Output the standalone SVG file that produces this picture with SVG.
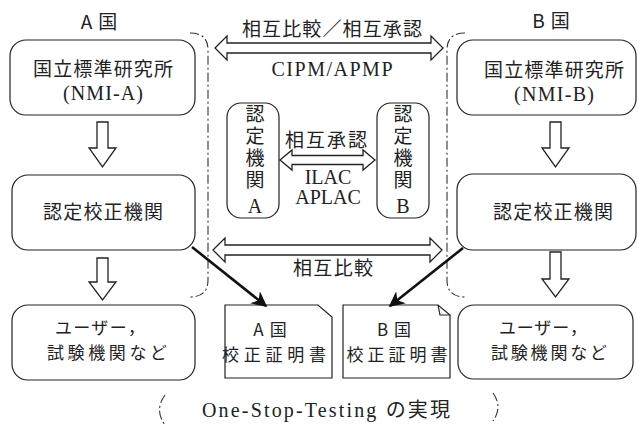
<svg xmlns="http://www.w3.org/2000/svg" width="638" height="425" viewBox="0 0 638 425">
<defs>
<style>
.bx{fill:none;stroke:#222;stroke-width:1.2}
.reg{fill:none;stroke:#333;stroke-width:1.1;stroke-dasharray:9 3 2 3}
.ha{fill:#fff;stroke:#222;stroke-width:1.3;stroke-linejoin:miter}
.ta{stroke:#111;stroke-width:2.6;fill:none}
.jp{font-family:"Noto Sans CJK JP","Liberation Sans",sans-serif;font-size:19px;fill:#222;text-anchor:middle}
.j2{font-family:"Noto Sans CJK JP","Liberation Sans",sans-serif;font-size:17px;fill:#222;text-anchor:middle}
.lt{font-family:"Liberation Serif","Noto Sans CJK JP",serif;font-size:20px;fill:#222;text-anchor:middle}
.vt{font-family:"Noto Sans CJK JP","Liberation Sans",sans-serif;font-size:19px;fill:#222;writing-mode:vertical-rl;letter-spacing:3px}
</style>
<marker id="ah" viewBox="0 0 10 10" refX="9" refY="5" markerWidth="6" markerHeight="6" markerUnits="strokeWidth" orient="auto">
<path d="M0,0 L10,5 L0,10 L3,5 Z" fill="#111"/>
</marker>
</defs>
<rect width="638" height="425" fill="#fff"/>

<g id="regions">
<path class="reg" d="M190,33 Q208,33 208,50 V280 Q208,297 190,297"/>
<path class="reg" d="M465,33 Q447,33 447,50 V280 Q447,297 465,297"/>
<path class="reg" d="M165,395 Q154,410 165,425"/>
<path class="reg" d="M493,393 Q503,407 493,421"/>
</g>

<g id="labelA"><text class="jp" x="99" y="29">A<tspan dx="6">国</tspan></text></g>
<g id="labelB"><text class="jp" x="551" y="28">B<tspan dx="6">国</tspan></text></g>

<g id="nmiA">
<rect class="bx" x="10" y="40" width="185" height="75" rx="16"/>
<text class="jp" x="103" y="76" textLength="140">国立標準研究所</text>
<text class="lt" x="103" y="100" textLength="80">(NMI-A)</text>
</g>
<g id="calA">
<rect class="bx" x="12" y="175" width="183" height="75" rx="16"/>
<text class="jp" x="103" y="219" textLength="120">認定校正機関</text>
</g>
<g id="userA">
<rect class="bx" x="12" y="305" width="183" height="75" rx="16"/>
<text class="j2" x="100" y="334" textLength="90">ユーザー，</text>
<text class="j2" x="107" y="359" textLength="120">試験機関など</text>
</g>

<g id="nmiB">
<rect class="bx" x="457" y="40" width="179" height="75" rx="16"/>
<text class="jp" x="554" y="77" textLength="140">国立標準研究所</text>
<text class="lt" x="554" y="101" textLength="80">(NMI-B)</text>
</g>
<g id="calB">
<rect class="bx" x="457" y="174" width="179" height="76" rx="16"/>
<text class="jp" x="553" y="219" textLength="120">認定校正機関</text>
</g>
<g id="userB">
<rect class="bx" x="458" y="305" width="175" height="74" rx="16"/>
<text class="j2" x="543" y="334" textLength="88">ユーザー，</text>
<text class="j2" x="549" y="359" textLength="116">試験機関など</text>
</g>

<g id="accA">
<rect class="bx" x="227" y="103" width="52" height="115" rx="14"/>
<text class="vt" x="255" y="104">認定機関</text>
<text class="lt" x="255" y="213">A</text>
</g>
<g id="accB">
<rect class="bx" x="377" y="103" width="52" height="115" rx="14"/>
<text class="vt" x="403" y="104">認定機関</text>
<text class="lt" x="403" y="213">B</text>
</g>

<g id="certA">
<path class="bx" d="M225,305 H318 L332,317 V378 H225 Z"/>
<text class="j2" x="270" y="336">A<tspan dx="6">国</tspan></text>
<text class="j2" x="274" y="361" textLength="104">校正証明書</text>
</g>
<g id="certB">
<path class="bx" d="M343,305 H438 L450,315 V378 H343 Z"/>
<path class="bx" d="M438,305 L440,315 L450,315"/>
<text class="j2" x="394" y="336">B<tspan dx="6">国</tspan></text>
<text class="j2" x="397" y="361" textLength="101">校正証明書</text>
</g>

<g id="connectors">
<path class="ha" d="M97,122 H108 V148 H116 L102.5,167 L89,148 H97 Z"/>
<path class="ha" d="M97,258 H108 V282 H116 L102.5,300 L89,282 H97 Z"/>
<path class="ha" d="M550,122 H561 V148 H569 L555.5,167 L542,148 H550 Z"/>
<path class="ha" d="M550,252 H561 V279 H569 L555.5,297 L542,279 H550 Z"/>
<path class="ha" d="M215,48 L227,36 V43 H431 V36 L443,48 L431,60 V53 H227 V60 Z"/>
<path class="ha" d="M280,160 L292,150 V155.5 H363 V150 L375,160 L363,170 V164.5 H292 V170 Z"/>
<path class="ha" d="M213,250 L225,238 V245 H430 V238 L442,250 L430,262 V255 H225 V262 Z"/>
<line class="ta" x1="192" y1="247" x2="266" y2="306" marker-end="url(#ah)"/>
<line class="ta" x1="463" y1="248" x2="390" y2="306" marker-end="url(#ah)"/>
</g>

<g id="labels">
<text class="jp" x="332" y="36" textLength="180">相互比較／相互承認</text>
<text class="lt" x="332" y="76" textLength="121">CIPM/APMP</text>
<text class="jp" x="326" y="147" textLength="82">相互承認</text>
<text class="lt" x="328" y="184" font-size="17.5">ILAC</text>
<text class="lt" x="328" y="204" font-size="17.5">APLAC</text>
<text class="jp" x="333" y="275" textLength="80">相互比較</text>
<text class="lt" x="326" y="417" textLength="248">One-Stop-Testing の実現</text>
</g>
</svg>
